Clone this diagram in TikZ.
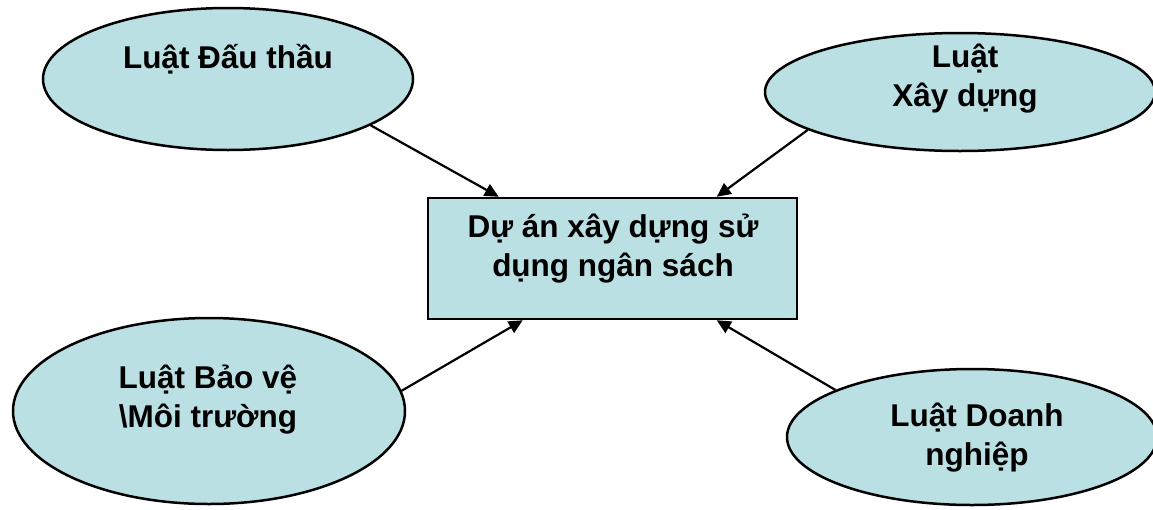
\documentclass[tikz,border=0pt]{standalone}
\usepackage{fontspec}
\setmainfont{Liberation Sans}
\usetikzlibrary{shapes.geometric,arrows.meta}
\definecolor{bubble}{RGB}{187,224,227}
\tikzset{
  law/.style={ellipse,draw=black,fill=bubble,line width=2.5pt,inner sep=0pt},
  hub/.style={rectangle,draw=black,fill=bubble,line width=2.5pt,inner sep=0pt,
    minimum width=369pt,minimum height=121pt},
  lbl/.style={font=\fontsize{31.5}{39}\selectfont\bfseries,align=center,inner sep=0pt},
  link/.style={line width=2.2pt,-{Triangle[length=14pt,width=13pt]}}
}
\begin{document}
\begin{tikzpicture}[x=1pt,y=-1pt]
\useasboundingbox (0,0) rectangle (1153,509);
\node[law,minimum width=370pt,minimum height=142pt] (tl) at (228,79) {};
\node[law,minimum width=390pt,minimum height=118pt] (tr) at (960,92) {};
\node[law,minimum width=392pt,minimum height=186pt] (bl) at (209,411) {};
\node[law,minimum width=370pt,minimum height=136pt] (br) at (972,437) {};
\node[hub] (r) at (612.5,258.5) {};
\node[lbl] (ttl) at (228,59) {Luật Đấu thầu};
\node[lbl] (ttr) at (965,79) {Luật\\Xây dựng};
\node[lbl] (tbl) at (208,400) {Luật Bảo vệ\\\textbackslash Môi trường};
\node[lbl] (tbr) at (977,438) {Luật Doanh\\nghiệp};
\node[lbl] (tr0) at (613,249) {Dự án xây dựng sử\\dụng ngân sách};
\draw[link] (tl.-18.6) -- ([xshift=72pt]r.north west);
\draw[link] (tr.-166.6) -- ([xshift=290pt]r.north west);
\draw[link] (bl.6) -- ([xshift=96pt]r.south west);
\draw[link] (br.161) -- ([xshift=290pt]r.south west);
\end{tikzpicture}
\end{document}
